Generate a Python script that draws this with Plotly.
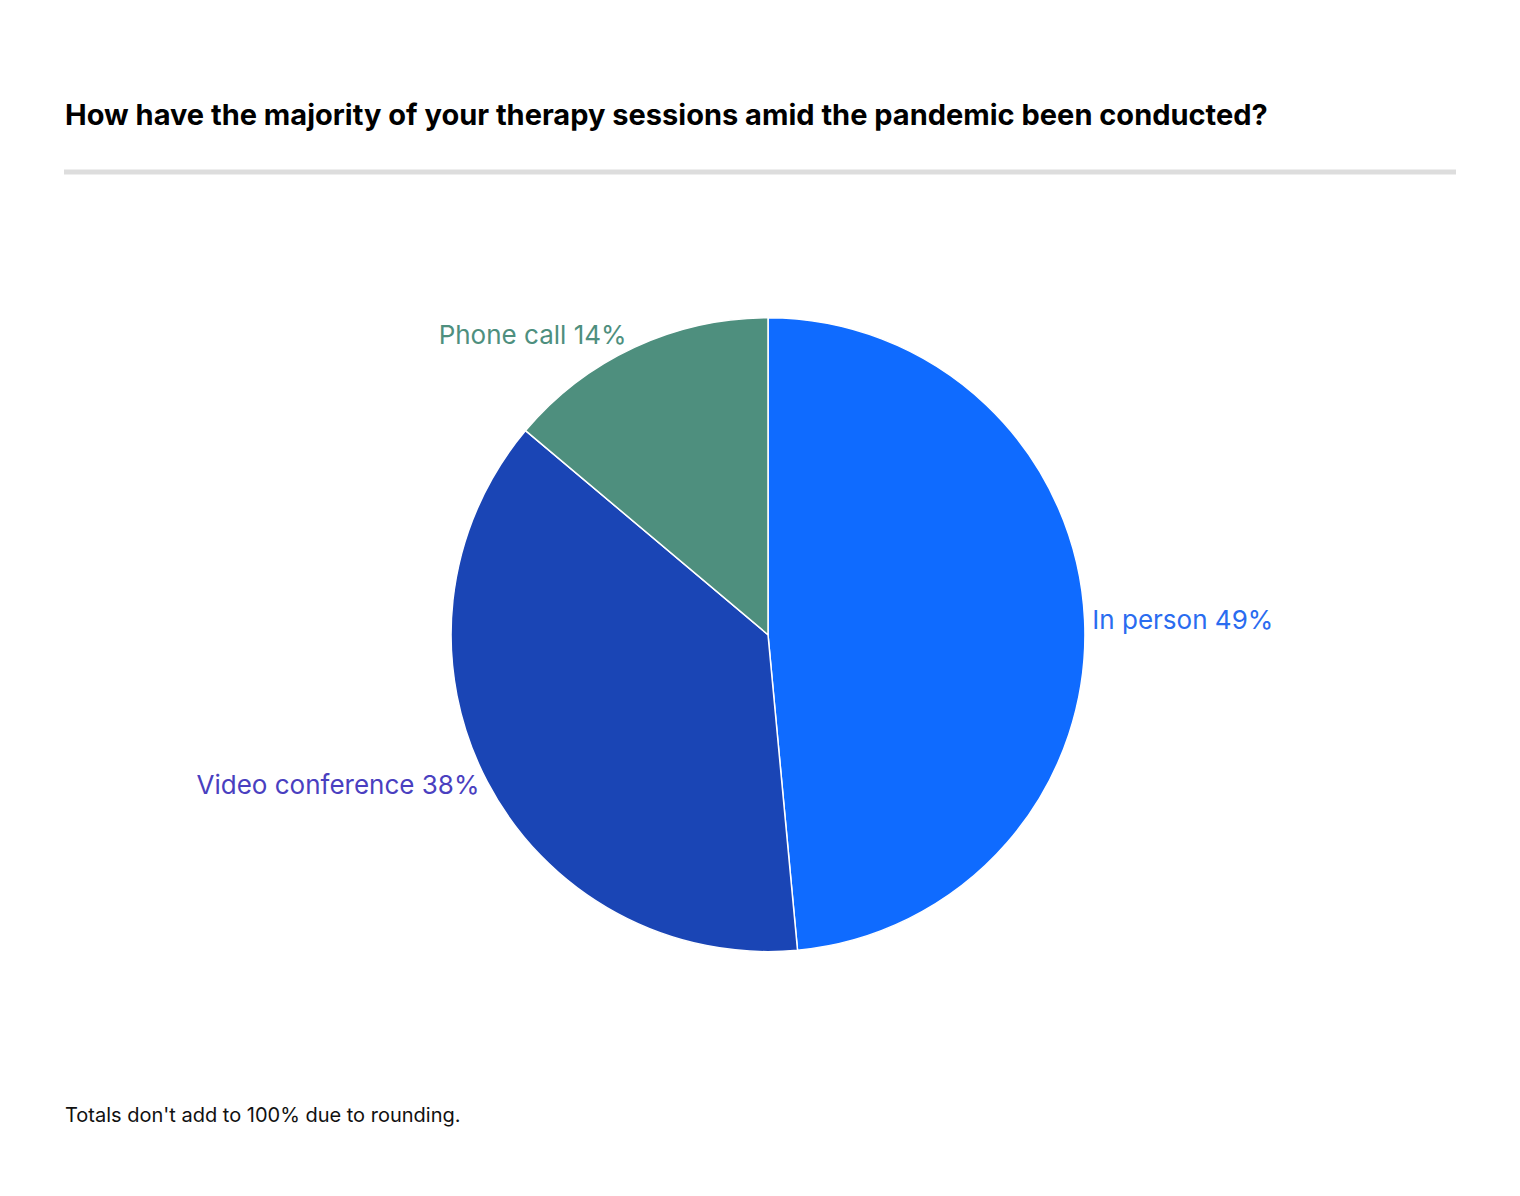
import plotly.graph_objects as go

labels = ["In person", "Video conference", "Phone call"]
values = [49, 38, 14]
colors = ["#0f6bff", "#1a45b5", "#4e8f7e"]
text_colors = ["#2a6cf0", "#4a3fc0", "#4e8f7e"]
title = "How have the majority of your therapy sessions amid the pandemic been conducted?"
note = "Totals don't add to 100% due to rounding."

fig = go.Figure(go.Pie(
    labels=labels, values=values, sort=False, direction="clockwise", rotation=0,
    marker=dict(colors=colors, line=dict(color="white", width=1.5)),
    textposition="outside", texttemplate="%{label} %{value}%",
    textfont=dict(color=text_colors, size=26, family="Inter"),
    showlegend=False, hoverinfo="skip",
    domain=dict(x=[0.15, 0.85], y=[0.211, 0.741]),
))
fig.update_layout(
    width=1520, height=1196, margin=dict(l=0, r=0, t=0, b=0, autoexpand=False),
    paper_bgcolor="white", plot_bgcolor="white",
    font=dict(family="Inter", color="#111"),
    annotations=[
        dict(text="<b>" + title + "</b>", x=55/1520, y=1-106/1196, xref="paper", yref="paper",
             xanchor="left", yanchor="middle", showarrow=False, font=dict(size=29, color="#000")),
        dict(text=note, x=55/1520, y=1-1107/1196, xref="paper", yref="paper",
             xanchor="left", yanchor="middle", showarrow=False, font=dict(size=20, color="#111")),
    ],
    shapes=[dict(type="line", xref="paper", yref="paper", x0=56/1520, x1=1448/1520,
                 y0=1-164/1196, y1=1-164/1196, line=dict(color="#dddddd", width=5))],
)
fig.write_html("out.html")
